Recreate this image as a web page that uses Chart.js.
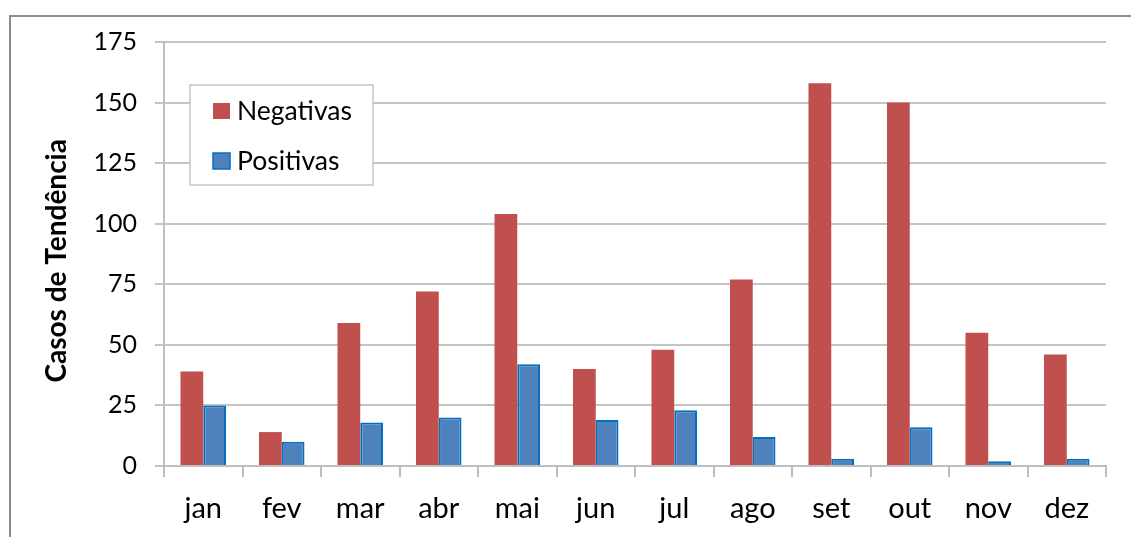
<!DOCTYPE html>
<html>
<head>
<meta charset="utf-8">
<script src="https://cdn.jsdelivr.net/npm/chart.js@4"></script>
<style>
  html, body { margin: 0; padding: 0; background: #fff; }
  #wrap { position: relative; width: 1131px; height: 537px; }
  #frame {
    position: absolute; left: 9px; top: 15px; right: -5px; bottom: -5px;
    border-left: 2px solid #8c8c8c; border-top: 2px solid #8c8c8c;
  }
  canvas { position: absolute; left: 0; top: 0; }
</style>
</head>
<body>
<div id="wrap">
  <div id="frame"></div>
  <canvas id="tendChart" width="1131" height="537"></canvas>
</div>
<script>
const meses = ['jan', 'fev', 'mar', 'abr', 'mai', 'jun', 'jul', 'ago', 'set', 'out', 'nov', 'dez'];
const negativas = [39, 14, 59, 72, 104, 40, 48, 77, 158, 150, 55, 46];
const positivas = [25, 10, 18, 20, 42, 19, 23, 12, 3, 16, 2, 3];
const yTicks = [0, 25, 50, 75, 100, 125, 150, 175];

const FONT = 'Lato, "Open Sans", sans-serif';

// legend box drawn inside the plot, like the spreadsheet layout
const boxLegend = {
    id: 'boxLegend',
    afterDraw(chart) {
        const ctx = chart.ctx;
        const x = 190, y = 85, w = 183, h = 100;
        ctx.save();
        ctx.fillStyle = '#fff';
        ctx.fillRect(x, y, w, h);
        ctx.strokeStyle = '#c4c4c4';
        ctx.lineWidth = 1.5;
        ctx.strokeRect(x, y, w, h);
        ctx.font = '26.5px ' + FONT;
        ctx.textBaseline = 'middle';
        chart.data.datasets.forEach((ds, i) => {
            const cy = y + 26 + i * 50;
            ctx.fillStyle = ds.backgroundColor;
            ctx.fillRect(x + 23, cy - 8, 17, 16);
            if (ds.borderWidth) {
                ctx.strokeStyle = ds.borderColor;
                ctx.lineWidth = 1.5;
                ctx.strokeRect(x + 23, cy - 8, 17, 16);
            }
            ctx.fillStyle = '#000';
            ctx.fillText(ds.label, x + 47, cy);
        });
        ctx.restore();
    }
};

const ctx = document.getElementById('tendChart').getContext('2d');
new Chart(ctx, {
    type: 'bar',
    data: {
        labels: meses,
        datasets: [{
            label: 'Negativas',
            data: negativas,
            backgroundColor: '#C0504D',
            borderWidth: 0,
            categoryPercentage: 0.58,
            barPercentage: 1.0
        }, {
            label: 'Positivas',
            data: positivas,
            backgroundColor: '#4F81BD',
            borderColor: '#0070C0',
            borderWidth: 2,
            categoryPercentage: 0.58,
            barPercentage: 1.0
        }]
    },
    options: {
        responsive: false,
        animation: false,
        layout: { padding: { left: 0, right: 25, top: 42, bottom: 0 } },
        scales: {
            x: {
                grid: {
                    offset: true,
                    drawOnChartArea: false,
                    color: '#bfbfbf',
                    lineWidth: 2,
                    tickLength: 11
                },
                border: { color: '#bfbfbf', width: 2 },
                ticks: {
                    color: '#000',
                    padding: 14,
                    font: { family: FONT, size: 29 }
                },
                afterFit(scale) { scale.height = 71; }
            },
            y: {
                min: 0,
                max: 175,
                afterBuildTicks(scale) {
                    scale.ticks = yTicks.map(v => ({ value: v }));
                },
                grid: {
                    color: '#c4c4c4',
                    lineWidth: 2,
                    tickLength: 9
                },
                border: { color: '#bfbfbf', width: 2 },
                ticks: {
                    color: '#000',
                    padding: 18,
                    font: { family: FONT, size: 25 }
                },
                title: {
                    display: true,
                    text: 'Casos de Tendência  ',
                    color: '#000',
                    padding: { top: 40, bottom: 0 },
                    font: { family: FONT, size: 28, weight: 'bold' }
                },
                afterFit(scale) { scale.width = 164; }
            }
        },
        plugins: {
            legend: { display: false },
            tooltip: { enabled: false }
        }
    },
    plugins: [boxLegend]
});
</script>
</body>
</html>
